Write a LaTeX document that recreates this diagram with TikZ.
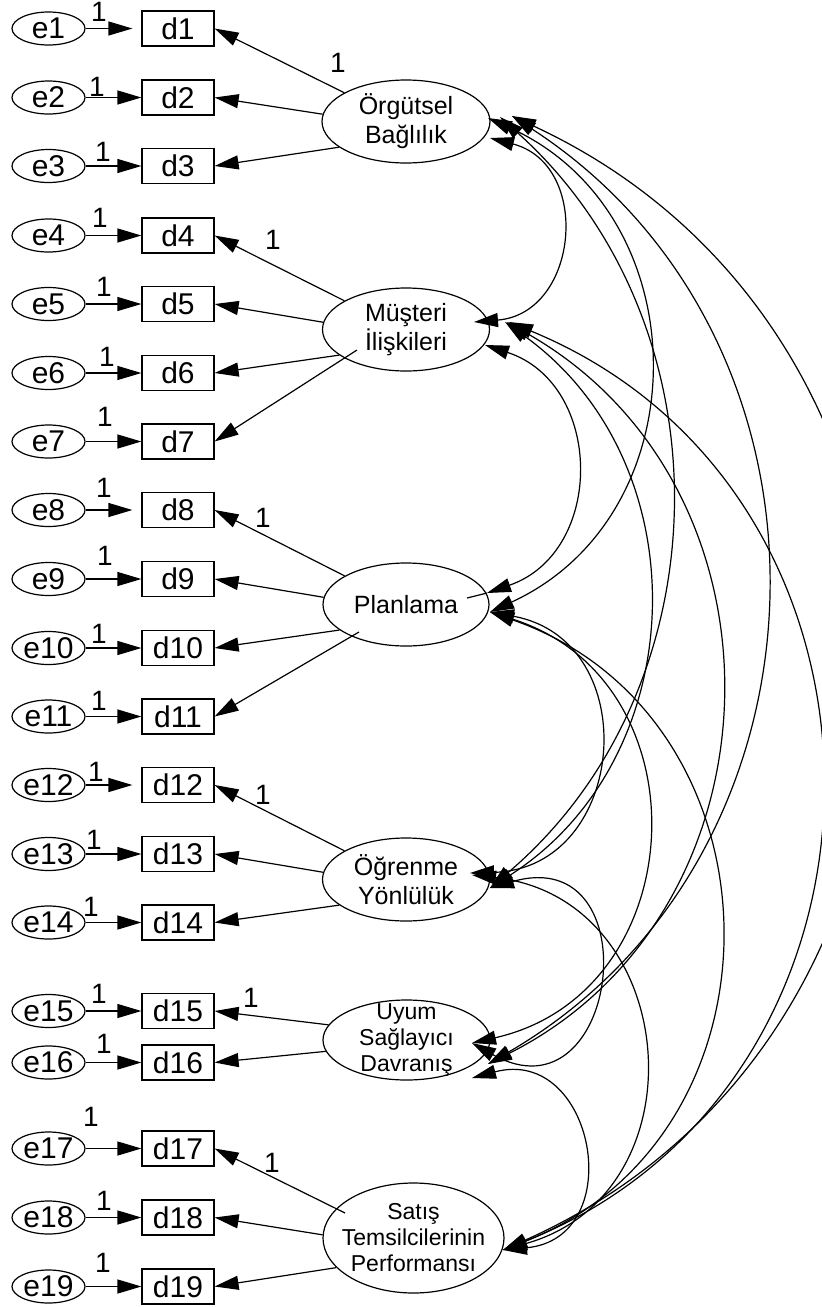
\documentclass[tikz,border=0pt]{standalone}
\usepackage{fontspec}
\setmainfont{Liberation Sans}
\usetikzlibrary{arrows.meta,shapes.geometric,calc}
\newcommand\cov[6]{%
  \pgfmathsetmacro\covL{veclen((#4-#2)/100,(#5-#3)/100)*50}%
  \pgfmathsetmacro\covVx{(#4-#2)/(2*\covL)}%
  \pgfmathsetmacro\covVy{(#5-#3)/(2*\covL)}%
  \pgfmathsetmacro\covA{2*atan(#6/\covL)}%
  \pgfmathsetmacro\covD{4/3*#6/sin(\covA)}%
  \pgfmathsetmacro\covC{\covD*cos(\covA)}%
  \pgfmathsetmacro\covS{\covD*sin(\covA)}%
  \pgfmathsetmacro\covXa{#2+\covC*\covVx+\covS*\covVy}%
  \pgfmathsetmacro\covYa{#3+\covC*\covVy-\covS*\covVx}%
  \pgfmathsetmacro\covXb{#4-\covC*\covVx+\covS*\covVy}%
  \pgfmathsetmacro\covYb{#5-\covC*\covVy-\covS*\covVx}%
  \coordinate (#1a) at (#2,#3);%
  \coordinate (#1b) at (#4,#5);%
  \draw[covline] (#1a) .. controls (\covXa,\covYa) and (\covXb,\covYb) .. (#1b);%
}
\begin{document}
\begin{tikzpicture}[x=1pt,y=-1pt,
  err/.style={draw, ellipse, minimum width=73pt, minimum height=33pt, inner sep=0pt,
    line width=1.2pt, font=\fontsize{30}{30}\selectfont},
  obs/.style={draw, rectangle, minimum width=72pt, minimum height=35pt, inner sep=0pt,
    line width=1.2pt, font=\fontsize{30}{30}\selectfont},
  lat/.style={draw, ellipse, inner sep=0pt, line width=1.2pt},
  latlab/.style={align=center, inner sep=0pt, font=\fontsize{25}{29}\selectfont},
  latlabs/.style={align=center, inner sep=0pt, font=\fontsize{23}{26}\selectfont},
  one/.style={inner sep=0pt, font=\fontsize{28}{28}\selectfont},
  arr/.style={line width=1.2pt, -{Triangle[length=24pt,width=14pt]}},
  covline/.style={line width=1.2pt, {Triangle[length=24pt,width=14pt]}-{Triangle[length=24pt,width=14pt]}}
]
\useasboundingbox (0,0) rectangle (822,1307);

% observed variables with their error terms
\foreach \i/\y/\lx/\ly/\s in {
  1/28.5/99/12/9, 2/97.5/97/87/0, 3/166/103/152/0, 4/235.5/100/218/0,
  5/304/104/287/0, 6/373/107/357/0, 7/441.5/105/417/0, 8/510/104/488/9,
  9/579/105/555.5/0, 10/648/99/634/0, 11/716.5/99/700.5/0, 12/785/96/771.5/9,
  13/854/94/840/0, 14/922.5/91/906.5/0, 15/1011/99/993.5/0, 16/1062.5/104/1044/0,
  17/1148.5/91/1117/0, 18/1217.5/104/1201/0, 19/1286.5/103/1263/0} {
  \node[err] (e\i) at (48.5,\y) {e\i};
  \node[obs] (d\i) at (178,\y) {d\i};
  \draw[arr, shorten >=\s pt] (e\i) -- (d\i);
  \node[one] (l\i) at (\lx,\ly) {1};
}

% latent variables
\node[lat, minimum width=168pt, minimum height=83pt,
  label={[latlab]center:{Örgütsel\\Bağlılık}}] (F1) at (406,121.5) {};
\node[lat, minimum width=167pt, minimum height=83pt,
  label={[latlab]center:{Müşteri\\İlişkileri}}] (F2) at (406,329.5) {};
\node[lat, minimum width=166pt, minimum height=83pt,
  label={[latlab]center:{Planlama}}] (F3) at (406,604.5) {};
\node[lat, minimum width=167pt, minimum height=83pt,
  label={[latlab]center:{Öğrenme\\Yönlülük}}] (F4) at (406,879.5) {};
\node[lat, minimum width=167pt, minimum height=80pt,
  label={[latlabs]center:{Uyum\\Sağlayıcı\\Davranış}}] (F5) at (406.5,1040) {};
\node[lat, minimum width=181pt, minimum height=110pt,
  label={[latlabs]center:{Satış\\Temsilcilerinin\\Performansı}}] (F6) at (413.5,1238) {};

% loadings
\draw[arr] (F1.155.7) -- (d1.east);
\draw[arr] (F1.175.5) -- (d2.east);
\draw[arr] (F1.201.7) -- (d3.east);
\draw[arr] (F2.155.7) -- (d4.east);
\draw[arr] (F2.175.5) -- (d5.east);
\draw[arr] (F2.201.7) -- (d6.east);
\draw[arr] ($(F2.center)+(-49,20.5)$) -- (d7.east);
\draw[arr] (F3.155.7) -- (d8.east);
\draw[arr] (F3.175.5) -- (d9.east);
\draw[arr] (F3.201.7) -- (d10.east);
\draw[arr] ($(F3.center)+(-47,27.5)$) -- (d11.east);
\draw[arr] (F4.155.7) -- (d12.east);
\draw[arr] (F4.175.5) -- (d13.east);
\draw[arr] (F4.201.7) -- (d14.east);
\draw[arr] (F5.169) -- (d15.east);
\draw[arr] (F5.188) -- (d16.east);
\draw[arr] ($(F6.center)+(-68.5,-25)$) -- (d17.east);
\draw[arr] (F6.178) -- (d18.east);
\draw[arr] (F6.201.4) -- (d19.east);

% fixed loading labels
\node[one] (k1) at (338,63) {1};
\node[one] (k2) at (273,240) {1};
\node[one] (k3) at (263,518) {1};
\node[one] (k4) at (263,795) {1};
\node[one] (k5) at (251,998) {1};
\node[one] (k6) at (272,1163) {1};

% covariances
\cov{c12}{490}{138}{474}{322}{78}
\cov{c13}{488}{118}{490}{612}{159}
\cov{c14}{500}{117}{490}{888}{175}
\cov{c15}{512}{116}{488}{1064}{265}
\cov{c16}{512}{116}{503}{1250}{365}
\cov{c23}{485}{345}{487}{593}{89}
\cov{c24}{505}{322}{490}{888}{150}
\cov{c25}{507}{322}{488}{1064}{222}
\cov{c26}{509}{322}{503}{1250}{313}
\cov{c34}{490}{612}{470}{873}{118}
\cov{c35}{490}{612}{472}{1043}{165}
\cov{c36}{490}{612}{503}{1250}{222}
\cov{c45}{490}{888}{472}{1043}{117}
\cov{c46}{472}{875}{503}{1250}{155}
\cov{c56}{472}{1078}{503}{1250}{95}
% short stroke inside Planlama
\coordinate (p3) at (467,598);
\draw[line width=1.2pt] (p3) -- (c23b);
\end{tikzpicture}
\end{document}
